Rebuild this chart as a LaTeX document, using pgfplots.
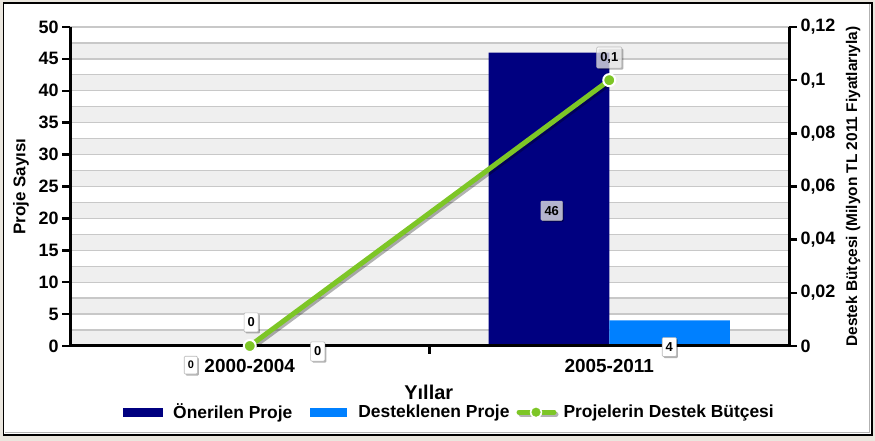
\documentclass[border=0pt]{standalone}
\usepackage{pgfplots}
\pgfplotsset{compat=1.18}
\usepackage{fontspec}
\setmainfont{Liberation Sans}
\usetikzlibrary{shadows}
\definecolor{navyb}{RGB}{0,0,128}
\definecolor{lblue}{RGB}{0,128,255}
\definecolor{lgreen}{RGB}{125,198,38}
\definecolor{beige}{RGB}{234,230,222}
\definecolor{band}{RGB}{239,239,239}
\definecolor{gridc}{RGB}{200,200,200}
\tikzset{dl/.style={fill=white, draw=gray!55, line width=0.6bp, inner xsep=3.5bp, inner ysep=5bp,
  font=\bfseries\fontsize{13}{13}\selectfont, rounded corners=1bp,
  drop shadow={shadow xshift=1.5bp, shadow yshift=-1.5bp, opacity=0.3, fill=black}}}
\begin{document}
\begin{tikzpicture}[x=1bp,y=1bp]
\fill[beige] (0,0) rectangle (875,441);
\fill[white] (3.5,6) rectangle (872,438);
\draw[gray!60, line width=1.5] (869.5,437) -- (869.5,8.5) -- (4.5,8.5);
\draw[black, line width=2] (3.5,6) rectangle (872,438);
\useasboundingbox (0,0) rectangle (875,441);
\begin{axis}[at={(70bp,95bp)}, anchor=south west, scale only axis,
  width=719bp, height=319bp,
  xmin=-0.5, xmax=1.5, ymin=0, ymax=50,
  axis on top,
  axis x line*=bottom, axis y line*=left,
  axis line style={line width=3bp, black, -},
  tick align=outside, major tick length=8bp,
  tick style={line width=2.5bp, black},
  /pgf/number format/assume math mode=true,
  xtick={0.5}, xticklabels={},
  extra x ticks={0,1}, extra x tick labels={2000-2004,2005-2011},
  extra x tick style={major tick length=0pt, xticklabel style={font=\bfseries\fontsize{19}{19}\selectfont, anchor=base, yshift=-27bp}},
  ytick={0,5,...,50},
  yticklabel style={font=\bfseries\fontsize{18}{18}\selectfont},
  xlabel={Yıllar},
  xlabel style={font=\bfseries\fontsize{20}{20}\selectfont, at={(axis description cs:0.499,-0.146)}, anchor=center},
  ylabel={Proje Sayısı},
  ylabel style={font=\bfseries\fontsize{17}{17}\selectfont, at={(axis description cs:-0.0682,0.5)}, anchor=center},
  legend columns=3,
  legend cell align=left,
  legend style={at={(axis description cs:0.0737,-0.2075)}, anchor=west, draw=none, fill=none,
    inner sep=0pt,
    font=\bfseries\fontsize{17.5}{20}\selectfont,
    nodes={inner sep=0pt},
    /tikz/column 1/.style={column sep=10bp},
    /tikz/column 2/.style={column sep=18bp},
    /tikz/column 3/.style={column sep=11bp},
    /tikz/column 4/.style={column sep=7bp},
    /tikz/column 5/.style={column sep=5bp}},
]
\fill[band] (axis cs:-0.5,0) rectangle (axis cs:1.5,2.5);
\fill[band] (axis cs:-0.5,5) rectangle (axis cs:1.5,7.5);
\fill[band] (axis cs:-0.5,10) rectangle (axis cs:1.5,12.5);
\fill[band] (axis cs:-0.5,15) rectangle (axis cs:1.5,17.5);
\fill[band] (axis cs:-0.5,20) rectangle (axis cs:1.5,22.5);
\fill[band] (axis cs:-0.5,25) rectangle (axis cs:1.5,27.5);
\fill[band] (axis cs:-0.5,30) rectangle (axis cs:1.5,32.5);
\fill[band] (axis cs:-0.5,35) rectangle (axis cs:1.5,37.5);
\fill[band] (axis cs:-0.5,40) rectangle (axis cs:1.5,42.5);
\fill[band] (axis cs:-0.5,45) rectangle (axis cs:1.5,47.5);
\pgfplotsinvokeforeach{2.5,5,...,50}{\draw[gridc, line width=1.3bp] (axis cs:-0.5,#1) -- (axis cs:1.5,#1);}
\addplot[ybar, bar width=120.7bp, bar shift=-60.35bp, fill=navyb, draw=none,
  legend image code/.code={\fill[navyb] (0bp,-4.5bp) rectangle (40bp,4.5bp);}]
  coordinates {(0,0) (1,46)};
\addlegendentry{Önerilen Proje}
\addplot[ybar, bar width=120.7bp, bar shift=60.35bp, fill=lblue, draw=none,
  legend image code/.code={\fill[lblue] (0bp,-4.5bp) rectangle (37bp,4.5bp);}]
  coordinates {(0,0) (1,4)};
\addlegendentry{Desteklenen Proje}
\addlegendimage{legend image code/.code={
  \draw[black, opacity=0.3, line width=5bp, line cap=round] (2bp,-2bp) -- (37bp,-2bp);
  \draw[lgreen, line width=5bp, line cap=round] (0bp,0bp) -- (35bp,0bp);
  \fill[white] (17bp,0bp) circle (6bp);
  \fill[lgreen] (17bp,0bp) circle (4.3bp);}}
\addlegendentry{Projelerin Destek Bütçesi}
\end{axis}
\begin{axis}[at={(70bp,95bp)}, anchor=south west, scale only axis,
  width=719bp, height=319bp,
  xmin=-0.5, xmax=1.5, ymin=0, ymax=0.12,
  axis x line=none, axis y line*=right,
  axis line style={line width=3bp, black, -},
  tick align=outside, major tick length=8bp,
  tick style={line width=2.5bp, black},
  ytick={0,0.02,0.04,0.06,0.08,0.1,0.12},
  /pgf/number format/assume math mode=true,
  yticklabel style={font=\bfseries\fontsize{18}{18}\selectfont, /pgf/number format/.cd, fixed, precision=2, use comma},
  ylabel={Destek Bütçesi (Milyon TL 2011 Fiyatlarıyla)},
  ylabel style={font=\bfseries\fontsize{15.5}{15.5}\selectfont, at={(axis description cs:1.089,0.5)}, anchor=center},
  clip=false,
]
\addplot[black, opacity=0.3, line width=5bp, xshift=2bp, yshift=-2bp, forget plot] coordinates {(0,0) (1,0.1)};
\addplot[lgreen, line width=5bp, mark=*, mark size=6bp, mark options={fill=lgreen, draw=white, line width=2bp}] coordinates {(0,0) (1,0.1)};
\node[dl, font=\bfseries\fontsize{11}{11}\selectfont] at (axis cs:-0.164,-0.0072) {0};
\node[dl] at (axis cs:0.189,-0.00206) {0};
\node[dl] at (axis cs:0.004,0.00888) {0};
\node[dl, fill opacity=0.7, text opacity=1] at (axis cs:0.840,0.0509) {46};
\node[dl] at (axis cs:1.167,-0.0004) {4};
\node[dl, fill opacity=0.7, text opacity=1] at (axis cs:1.0,0.1085) {0,1};
\end{axis}
\end{tikzpicture}
\end{document}
